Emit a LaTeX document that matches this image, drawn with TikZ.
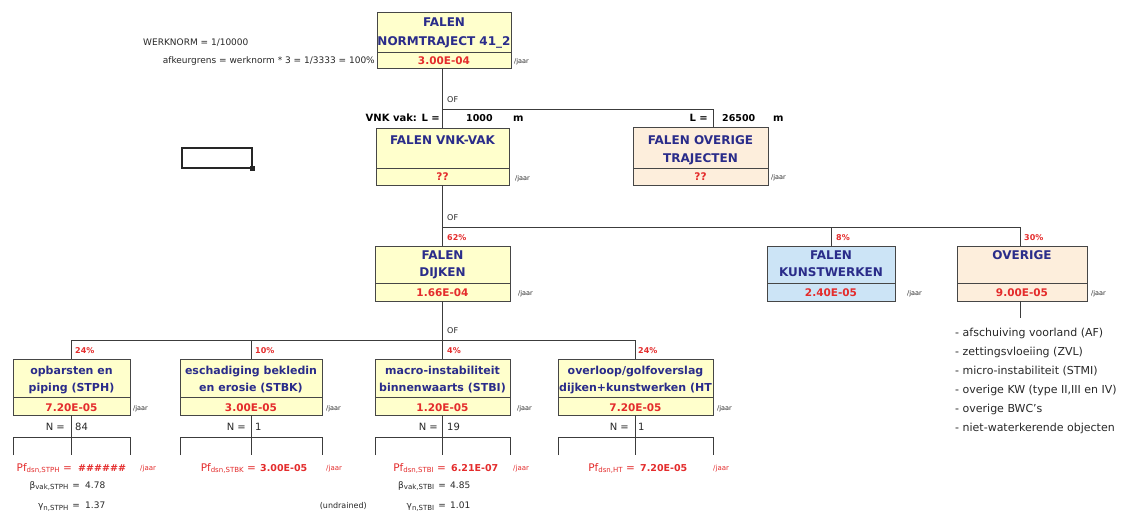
\documentclass[tikz,border=0pt]{standalone}
\usepackage{fontspec}
\setmainfont{DejaVu Sans}
\definecolor{titleblue}{RGB}{42,44,138}
\definecolor{valred}{RGB}{228,44,44}
\definecolor{yfill}{RGB}{255,255,204}
\definecolor{bfill}{RGB}{204,228,246}
\definecolor{pfill}{RGB}{253,238,220}
\definecolor{boxgray}{RGB}{70,70,70}
\definecolor{linegray}{RGB}{60,60,60}
\definecolor{txtgray}{RGB}{40,40,40}
\newcommand{\mkbox}[7]{%
  \node[bx, fill=#7, minimum width={#4-#2}, minimum height={#6-#3}] (#1) at (#2,#3) {};
  \draw[boxln] (#2,#5) -- (#4,#5);}
\newcommand{\sbs}[1]{\raisebox{-1.5pt}{\fontsize{7}{7}\selectfont #1}}
\begin{document}
\begin{tikzpicture}[x=1pt,y=-1pt,
  bx/.style={draw=boxgray, line width=0.9pt, inner sep=0pt, outer sep=0pt, anchor=north west},
  boxln/.style={draw=boxgray, line width=0.9pt},
  conn/.style={draw=linegray, line width=0.9pt},
  ttl/.style={font=\fontsize{12}{14}\selectfont\bfseries, text=titleblue, anchor=base, inner sep=0pt},
  sttl/.style={font=\fontsize{11}{13}\selectfont\bfseries, text=titleblue, anchor=base, inner sep=0pt},
  val/.style={font=\fontsize{10.5}{12}\selectfont\bfseries, text=valred, anchor=base, inner sep=0pt},
  jaar/.style={font=\fontsize{6.5}{8}\selectfont, text=txtgray, anchor=base west, inner sep=0pt},
  rjaar/.style={font=\fontsize{7}{8}\selectfont, text=valred, anchor=base west, inner sep=0pt},
  pct/.style={font=\fontsize{8}{9}\selectfont\bfseries, text=valred, anchor=base west, inner sep=0pt},
  oflbl/.style={font=\fontsize{8}{9}\selectfont, text=txtgray, anchor=base west, inner sep=0pt},
  lbl/.style={font=\fontsize{10}{12}\selectfont\bfseries, text=black, inner sep=0pt},
  nlbl/.style={font=\fontsize{10}{12}\selectfont, text=txtgray, inner sep=0pt},
  pfl/.style={font=\fontsize{10.5}{12}\selectfont, text=valred, anchor=base east, inner sep=0pt},
  pfv/.style={font=\fontsize{9.5}{12}\selectfont\bfseries, text=valred, anchor=base west, inner sep=0pt},
  bgl/.style={font=\fontsize{9}{11}\selectfont, text=txtgray, inner sep=0pt},
  note/.style={font=\fontsize{9}{11}\selectfont, text=txtgray, inner sep=0pt},
  lst/.style={font=\fontsize{11}{13}\selectfont, text=txtgray, anchor=base west, inner sep=0pt}]
\fill[white] (0,0) rectangle (1126,512);
\useasboundingbox (0,0) rectangle (1126,512);

% ---------- notes top left ----------
\node[note, anchor=base west] (wn) at (143,45) {WERKNORM = 1/10000};
\node[note, anchor=base east] (ak) at (375,63.5) {afkeurgrens = werknorm * 3 = 1/3333 = 100\%};

% ---------- top box ----------
\mkbox{top}{377}{12}{511}{52}{68}{yfill}
\begin{scope}
\clip (377,12) rectangle (511,52);
\node[ttl] (topa) at (444,26.5) {FALEN};
\node[ttl] (topb) at (444,45.5) {NORMTRAJECT 41\_2};
\end{scope}
\node[val] (topv) at (444,64) {3.00E-04};
\node[jaar] (topj) at (514,63.5) {/jaar};

% ---------- level 2 ----------
\mkbox{vnk}{376}{128}{509}{168}{185}{yfill}
\node[ttl] (vnka) at (442.5,144.5) {FALEN VNK-VAK};
\node[val] (vnkv) at (442.5,180.5) {??};
\node[jaar] (vnkj) at (515,180) {/jaar};

\mkbox{ovt}{633}{127}{768}{168}{185}{pfill}
\node[ttl] (ovta) at (700.5,144.5) {FALEN OVERIGE};
\node[ttl] (ovtb) at (700.5,162.5) {TRAJECTEN};
\node[val] (ovtv) at (700.5,180.5) {??};
\node[jaar] (ovtj) at (771,179.5) {/jaar};

\coordinate (j1) at (442.5,109);
\coordinate (j1r) at (713,109);
\draw[conn] (vnk.north |- top.south) -- (vnk.north);
\draw[conn] (j1) -- (j1r) -- (j1r |- ovt.north);
\node[oflbl] (of1) at (447,102) {OF};
\node[lbl, anchor=base east] (vnkl) at (440,121.5) {VNK vak: L =};
\node[lbl, anchor=base west, font=\fontsize{9.5}{11}\selectfont\bfseries] (vnkL) at (466,121.5) {1000};
\node[lbl, anchor=base west] (vnkm) at (513,121.5) {m};
\node[lbl, anchor=base east] (ovtl) at (708,121.5) {L =};
\node[lbl, anchor=base west, font=\fontsize{9.5}{11}\selectfont\bfseries] (ovtL) at (722,121.5) {26500};
\node[lbl, anchor=base west] (ovtm) at (773,121.5) {m};

% ---------- level 3 ----------
\mkbox{dk}{375}{246}{510}{283}{301}{yfill}
\node[ttl] (dka) at (442.5,259.5) {FALEN};
\node[ttl] (dkb) at (442.5,276.5) {DIJKEN};
\node[val] (dkv) at (442.5,296) {1.66E-04};
\node[jaar] (dkj) at (518,295) {/jaar};

\mkbox{kw}{767}{246}{895}{283}{301}{bfill}
\node[ttl] (kwa) at (831,259.5) {FALEN};
\node[ttl] (kwb) at (831,276.5) {KUNSTWERKEN};
\node[val] (kwv) at (831,296) {2.40E-05};
\node[jaar] (kwj) at (907,295) {/jaar};

\mkbox{ov}{957}{246}{1087}{283}{301}{pfill}
\node[ttl] (ova) at (1022,259.5) {OVERIGE};
\node[val] (ovv) at (1022,296) {9.00E-05};
\node[jaar] (ovj) at (1091,295) {/jaar};

\coordinate (j2) at (442.5,227);
\coordinate (j2r) at (1020,227);
\draw[conn] (vnk.south) -- (dk.north);
\draw[conn] (j2) -- (j2r) -- (j2r |- ov.north);
\draw[conn] (kw.north |- j2) -- (kw.north);
\node[oflbl] (of2) at (447,220) {OF};
\node[pct] (p62) at (447,240) {62\%};
\node[pct] (p8) at (836,240) {8\%};
\node[pct] (p30) at (1024,240) {30\%};

\coordinate (ovend) at (1020,318);
\draw[conn] (ovend |- ov.south) -- (ovend);
\node[lst] (l1) at (955,336) {- afschuiving voorland (AF)};
\node[lst] (l2) at (955,355) {- zettingsvloeiing (ZVL)};
\node[lst] (l3) at (955,374.5) {- micro-instabiliteit (STMI)};
\node[lst] (l4) at (955,393.5) {- overige KW (type II,III en IV)};
\node[lst] (l5) at (955,412.5) {- overige BWC's};
\node[lst] (l6) at (955,431.5) {- niet-waterkerende objecten};

% ---------- level 4 ----------
\mkbox{b1}{13}{359}{130}{397}{415}{yfill}
\mkbox{b2}{180}{359}{322}{397}{415}{yfill}
\mkbox{b3}{375}{359}{510}{397}{415}{yfill}
\mkbox{b4}{558}{359}{713}{397}{415}{yfill}
\begin{scope}
\clip (13,359) rectangle (130,397);
\node[sttl] (b1a) at (71.5,374.5) {opbarsten en};
\node[sttl] (b1b) at (71.5,391.5) {piping (STPH)};
\end{scope}
\begin{scope}
\clip (180,359) rectangle (322,397);
\node[sttl] (b2a) at (251,374.5) {eschadiging bekledin};
\node[sttl] (b2b) at (251,391.5) {en erosie (STBK)};
\end{scope}
\begin{scope}
\clip (375,359) rectangle (510,397);
\node[sttl] (b3a) at (442.5,374.5) {macro-instabiliteit};
\node[sttl] (b3b) at (442.5,391.5) {binnenwaarts (STBI)};
\end{scope}
\begin{scope}
\clip (558,359) rectangle (713,397);
\node[sttl] (b4a) at (635.5,374.5) {overloop/golfoverslag};
\node[sttl] (b4b) at (635.5,391.5) {dijken+kunstwerken (HT};
\end{scope}
\node[val] (b1v) at (71.5,411) {7.20E-05};
\node[val] (b2v) at (251,411) {3.00E-05};
\node[val] (b3v) at (442.5,411) {1.20E-05};
\node[val] (b4v) at (635.5,411) {7.20E-05};
\node[jaar] (b1j) at (133,410) {/jaar};
\node[jaar] (b2j) at (326,410) {/jaar};
\node[jaar] (b3j) at (517,410) {/jaar};
\node[jaar] (b4j) at (717,410) {/jaar};

\coordinate (j3) at (442.5,340);
\draw[conn] (dk.south) -- (j3);
\draw[conn] (b1.north) -- (b1.north |- j3) -- (b4.north |- j3) -- (b4.north);
\draw[conn] (b2.north |- j3) -- (b2.north);
\draw[conn] (b3.north |- j3) -- (b3.north);
\node[oflbl] (of3) at (447,333) {OF};
\node[pct] (p24a) at (75,353) {24\%};
\node[pct] (p10) at (255,353) {10\%};
\node[pct] (p4) at (447,353) {4\%};
\node[pct] (p24b) at (638,353) {24\%};

% brackets under bottom boxes
\foreach \b in {b1,b2,b3,b4}{
  \draw[conn] (\b.south) -- ([yshift=-40pt]\b.south);
  \draw[conn] ([yshift=-40pt]\b.south west) -- ([yshift=-22pt]\b.south west) -- ([yshift=-22pt]\b.south east) -- ([yshift=-40pt]\b.south east);
}

% N row
\node[nlbl, anchor=base east] (n1l) at (65,430) {N =};
\node[nlbl, anchor=base west] (n1v) at (75,430) {84};
\node[nlbl, anchor=base east] (n2l) at (246,430) {N =};
\node[nlbl, anchor=base west] (n2v) at (255,430) {1};
\node[nlbl, anchor=base east] (n3l) at (438,430) {N =};
\node[nlbl, anchor=base west] (n3v) at (447,430) {19};
\node[nlbl, anchor=base east] (n4l) at (629,430) {N =};
\node[nlbl, anchor=base west] (n4v) at (638,430) {1};

% Pf row
\node[pfl] (pf1l) at (72,471) {Pf\sbs{dsn,STPH} =};
\node[pfv] (pf1v) at (78,471) {\#\#\#\#\#\#};
\node[rjaar] (pf1j) at (140,470.5) {/jaar};
\node[pfl] (pf2l) at (256,471) {Pf\sbs{dsn,STBK} =};
\node[pfv] (pf2v) at (260,471) {3.00E-05};
\node[rjaar] (pf2j) at (326,470.5) {/jaar};
\node[pfl] (pf3l) at (446,471) {Pf\sbs{dsn,STBI} =};
\node[pfv] (pf3v) at (451,471) {6.21E-07};
\node[rjaar] (pf3j) at (513,470.5) {/jaar};
\node[pfl] (pf4l) at (635,471) {Pf\sbs{dsn,HT} =};
\node[pfv] (pf4v) at (640,471) {7.20E-05};
\node[rjaar] (pf4j) at (713,470.5) {/jaar};

% beta / gamma rows
\node[bgl, anchor=base east] (be1l) at (80,488) {β\sbs{vak,STPH}\hspace{4pt}=};
\node[bgl, anchor=base west] (be1v) at (85,488) {4.78};
\node[bgl, anchor=base east] (ga1l) at (80,508.5) {γ\sbs{n,STPH}\hspace{4pt}=};
\node[bgl, anchor=base west] (ga1v) at (85,508.5) {1.37};
\node[bgl, anchor=base east] (be3l) at (446,488) {β\sbs{vak,STBI}\hspace{4pt}=};
\node[bgl, anchor=base west] (be3v) at (450,488) {4.85};
\node[bgl, anchor=base east] (ga3l) at (446,508.5) {γ\sbs{n,STBI}\hspace{4pt}=};
\node[bgl, anchor=base west] (ga3v) at (450,508.5) {1.01};
\node[bgl, anchor=base east, font=\fontsize{8}{10}\selectfont] (undr) at (367,508.5) {(undrained)};

% selection rectangle
\node[draw=black!85, line width=2.2pt, minimum width=70, minimum height=20, anchor=north west, inner sep=0pt, outer sep=0pt] (sel) at (182,148) {};
\fill[black!85] (sel.south east) ++(-2.5,-2.5) rectangle ++(5,5);
\end{tikzpicture}
\end{document}
